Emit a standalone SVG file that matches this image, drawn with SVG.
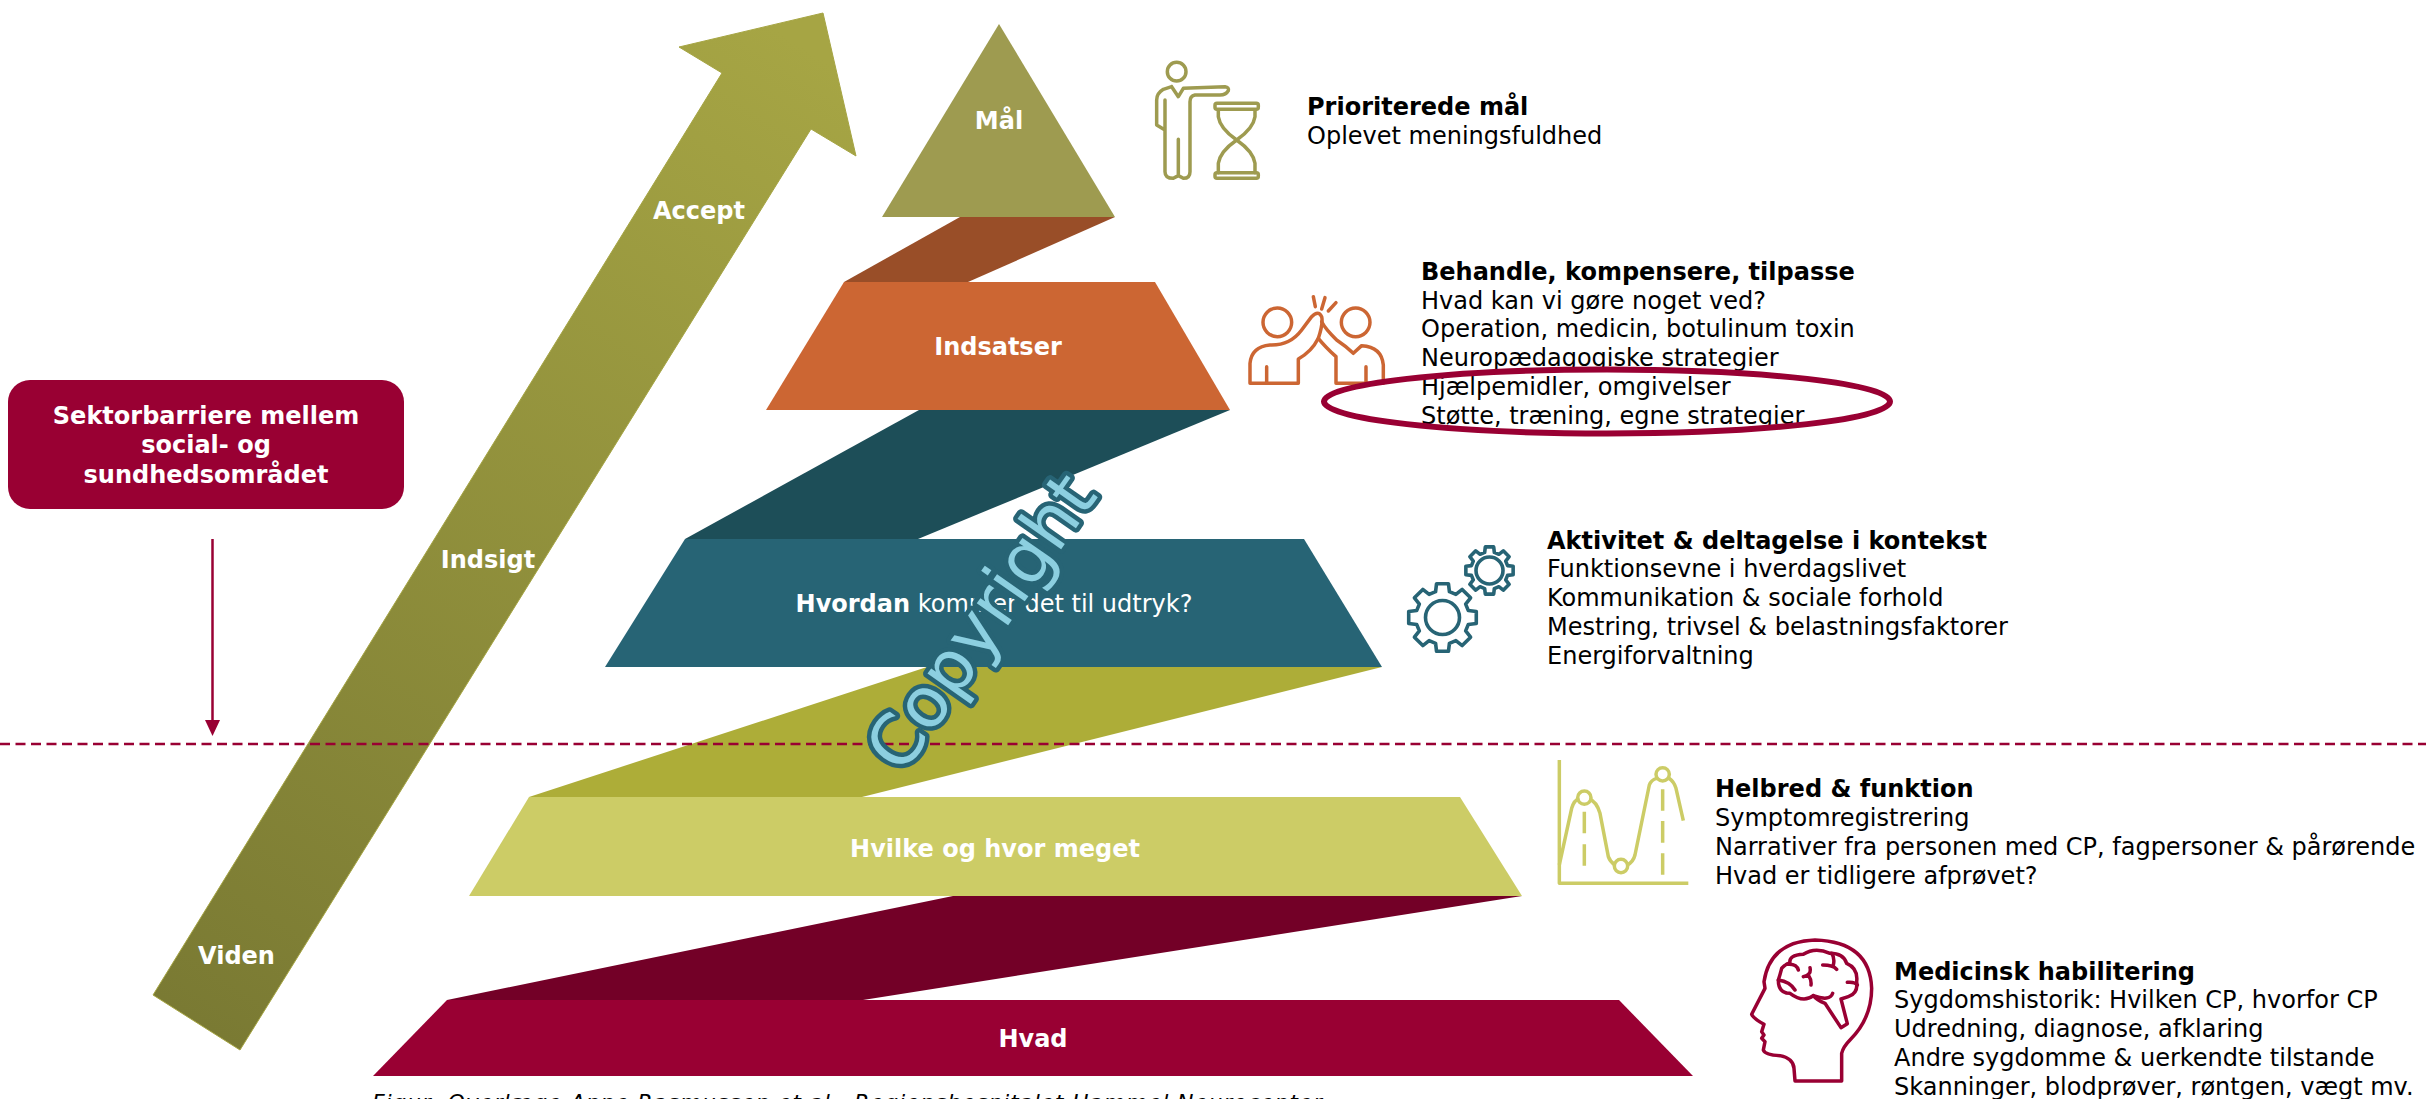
<svg xmlns="http://www.w3.org/2000/svg" width="2426" height="1099" viewBox="0 0 2426 1099">
<style>
text{font-family:"DejaVu Sans","Liberation Sans",sans-serif}
.w{fill:#fff;font-weight:700;font-size:24px;text-anchor:middle}
.h{fill:#000;font-weight:700;font-size:24px}
.b{fill:#000;font-size:24px}
.ic{fill:none;stroke-width:10.500;stroke-linejoin:round;stroke-linecap:round}
.g{fill:none;stroke:#276475;stroke-width:3.6;stroke-linejoin:round}
</style>
<defs>
<linearGradient id="ag" gradientUnits="userSpaceOnUse" x1="197" y1="1022" x2="823" y2="60">
<stop offset="0" stop-color="#7a7a33"/><stop offset="1" stop-color="#a6a544"/>
</linearGradient>
<polygon id="gear" vector-effect="non-scaling-stroke" points="75.3,-20.2 98.5,-17.4 98.5,17.4 75.3,20.2 67.5,39 81.9,57.4 57.4,81.9 39,67.5 20.2,75.3 17.4,98.5 -17.4,98.5 -20.2,75.3 -39,67.5 -57.4,81.9 -81.9,57.4 -67.5,39 -75.3,20.2 -98.5,17.4 -98.5,-17.4 -75.3,-20.2 -67.5,-39 -81.9,-57.4 -57.4,-81.9 -39,-67.5 -20.2,-75.3 -17.4,-98.5 17.4,-98.5 20.2,-75.3 39,-67.5 57.4,-81.9 81.9,-57.4 67.5,-39"/>
</defs>
<rect width="2426" height="1099" fill="#fff"/>

<g id="connectors">
<polygon id="band-1" points="960,217 1115,217 968,282 844,282" fill="#994e28"/>
<polygon id="band-2" points="919,410 1230,410 918,539 685,539" fill="#1d4e58"/>
<polygon id="band-3" points="927,667 1382,667 862,797 529,797" fill="#adad38"/>
<polygon id="band-4" points="953,896 1522,896 863,1000 447,1000" fill="#730027"/>
<line x1="212.5" y1="539" x2="212.5" y2="722" stroke="#990033" stroke-width="2.5"/>
<polygon points="205,720 220,720 212.5,736" fill="#990033"/>
</g>

<g id="arrow">
<polygon points="153,995 240,1050 811,129 856,156 823,13 679,47 722,73" fill="url(#ag)" stroke="#a6a544" stroke-width="1"/>
<text class="w" x="699" y="219">Accept</text>
<text class="w" x="488" y="568">Indsigt</text>
<text class="w" x="236.500" y="964">Viden</text>
</g>

<g id="node-maal">
<polygon points="999,24 882,217 1115,217" fill="#9e9b50"/>
<text class="w" x="999" y="129">Mål</text>
</g>
<g id="node-indsatser">
<polygon points="844,282 1155,282 1230,410 766,410" fill="#cc6633"/>
<text class="w" x="998" y="355">Indsatser</text>
</g>
<g id="node-hvordan">
<polygon points="685,539 1304,539 1382,667 605,667" fill="#276475"/>
<text class="w" x="994" y="612" style="font-weight:400"><tspan font-weight="700">Hvordan</tspan> kommer det til udtryk?</text>
</g>
<g id="node-hvilke">
<polygon points="529,797 1460,797 1522,896 469,896" fill="#cccc66"/>
<text class="w" x="995" y="857">Hvilke og hvor meget</text>
</g>
<g id="node-hvad">
<polygon points="447,1000 1619,1000 1693,1076 373,1076" fill="#990033"/>
<text class="w" x="1033" y="1047">Hvad</text>
</g>

<g id="node-sektor">
<rect x="8" y="380" width="396" height="129" rx="22" fill="#990033"/>
<text class="w" x="206" y="424">Sektorbarriere mellem</text>
<text class="w" x="206" y="453">social- og</text>
<text class="w" x="206" y="483">sundhedsområdet</text>
</g>

<g id="text-maal">
<text class="h" x="1307" y="115">Prioriterede mål</text>
<text class="b" x="1307" y="144">Oplevet meningsfuldhed</text>
<g transform="translate(1140,50) scale(.3333)" class="ic" stroke="#9e9b50">
<circle cx="110" cy="65" r="28"/>
<path d="M95,110L115,140L130,115L255,110Q268,112 265,122Q258,135 240,135L165,135Q150,138 150,155L150,365Q150,385 130,385L115,377L100,385Q75,385 75,365L75,150M95,110L70,118Q50,130 50,150L50,225L75,240M115,268L115,375"/>
<rect x="225" y="160" width="130" height="18" rx="6"/>
<rect x="225" y="368" width="130" height="17" rx="6"/>
<path d="M235,180L235,200Q240,235 290,270Q240,305 235,340L235,368M345,180L345,200Q340,235 290,270Q340,305 345,340L345,368"/>
</g>
</g>

<g id="text-indsatser">
<text class="h" x="1421" y="280">Behandle, kompensere, tilpasse</text>
<text class="b" x="1421" y="309">Hvad kan vi gøre noget ved?</text>
<text class="b" x="1421" y="337">Operation, medicin, botulinum toxin</text>
<text class="b" x="1421" y="366">Neuropædagogiske strategier</text>
<text class="b" x="1421" y="395">Hjælpemidler, omgivelser</text>
<text class="b" x="1421" y="424">Støtte, træning, egne strategier</text>
<g transform="translate(1240,285) scale(.3333)" class="ic" stroke="#cc6633">
<circle cx="112" cy="112" r="43"/><circle cx="347" cy="112" r="43"/>
<path d="M220,35L226,65M255,38L245,72M288,53L265,78"/>
<path d="M30,295L30,235Q35,185 90,180Q150,182 185,135L215,95Q235,75 245,95Q250,115 235,160Q215,200 175,222L175,295Z"/>
<path d="M80,245L80,295M378,245L378,290"/>
<path d="M245,110Q255,130 290,165Q320,185 340,205L365,182Q425,185 430,240L430,295L288,295L288,215Q255,185 235,160"/>
</g>
<ellipse cx="1607" cy="401.500" rx="283" ry="32" fill="none" stroke="#990033" stroke-width="6"/>
</g>

<g id="text-hvordan">
<text class="h" x="1547" y="549">Aktivitet &amp; deltagelse i kontekst</text>
<text class="b" x="1547" y="577">Funktionsevne i hverdagslivet</text>
<text class="b" x="1547" y="606">Kommunikation &amp; sociale forhold</text>
<text class="b" x="1547" y="635">Mestring, trivsel &amp; belastningsfaktorer</text>
<text class="b" x="1547" y="664">Energiforvaltning</text>
<use href="#gear" class="g" transform="translate(1442.500,617.500) scale(.343)"/>
<circle cx="1442.500" cy="617.500" r="17" class="g"/>
<use href="#gear" class="g" transform="translate(1489.500,570.500) scale(.24)"/>
<circle cx="1489.500" cy="570.500" r="13.500" class="g"/>
</g>

<g id="text-hvilke">
<text class="h" x="1715" y="797">Helbred &amp; funktion</text>
<text class="b" x="1715" y="826">Symptomregistrering</text>
<text class="b" x="1715" y="855">Narrativer fra personen med CP, fagpersoner &amp; pårørende</text>
<text class="b" x="1715" y="884">Hvad er tidligere afprøvet?</text>
<g transform="translate(1550,750) scale(.3333)" class="ic" stroke="#cccc66" style="stroke-linecap:butt">
<path d="M28,30L28,400L415,400"/>
<path d="M28,345L65,175Q72,150 88,145M118,147Q140,155 150,190L175,320Q180,335 195,345M232,345Q250,335 255,315L298,105Q303,90 320,85M357,85Q372,95 378,115L400,212"/>
<circle cx="103" cy="143" r="20"/><circle cx="213" cy="348" r="20"/><circle cx="338" cy="73" r="20"/>
<path d="M103,185L103,250M103,283L103,347M338,118L338,182M338,213L338,278M338,310L338,374"/>
</g>
</g>

<g id="text-hvad">
<text class="h" x="1894" y="980">Medicinsk habilitering</text>
<text class="b" x="1894" y="1008">Sygdomshistorik: Hvilken CP, hvorfor CP</text>
<text class="b" x="1894" y="1037">Udredning, diagnose, afklaring</text>
<text class="b" x="1894" y="1066">Andre sygdomme &amp; uerkendte tilstande</text>
<text class="b" x="1894" y="1095">Skanninger, blodprøver, røntgen, vægt mv.</text>
<g transform="translate(1740,925) scale(.3333)" class="ic" stroke="#990033">
<path d="M165,468L305,468L305,385Q310,365 330,345Q395,280 395,190Q390,50 225,45Q90,50 72,170L75,190L35,268Q40,280 72,298L65,320L72,330L65,340L75,350L70,375Q75,390 120,392Q160,400 162,430Z"/>
<path d="M255,235Q230,225 220,212Q190,235 150,205Q115,205 115,165Q120,150 125,130Q140,115 150,115Q145,90 190,88Q225,65 270,85Q310,85 320,115Q355,130 350,170Q355,205 325,215L303,222L322,296L303,308L255,235"/>
<path d="M140,118Q170,115 175,135M115,165Q150,170 165,195M190,155Q215,150 210,128M205,150Q215,165 213,180M248,120Q280,120 290,133M275,85Q285,100 280,120M322,172Q345,170 352,180M220,212Q270,230 278,205"/>
</g>
</g>

<text x="372" y="1110" font-size="22" font-style="italic" fill="#000" textLength="950" lengthAdjust="spacing">Figur: Overlæge Anne Rasmussen et al., Regionshospitalet Hammel Neurocenter</text>

<line id="divider" x1="0" y1="744" x2="2426" y2="744" stroke="#990033" stroke-width="2.500" stroke-dasharray="10 5.500"/>

<text id="copyright" transform="translate(981,622) rotate(-55)" x="0" y="24" font-size="70" text-anchor="middle" fill="#8ccfe0" stroke="#276475" stroke-width="9" paint-order="stroke" stroke-linejoin="round">Copyright</text>
</svg>
